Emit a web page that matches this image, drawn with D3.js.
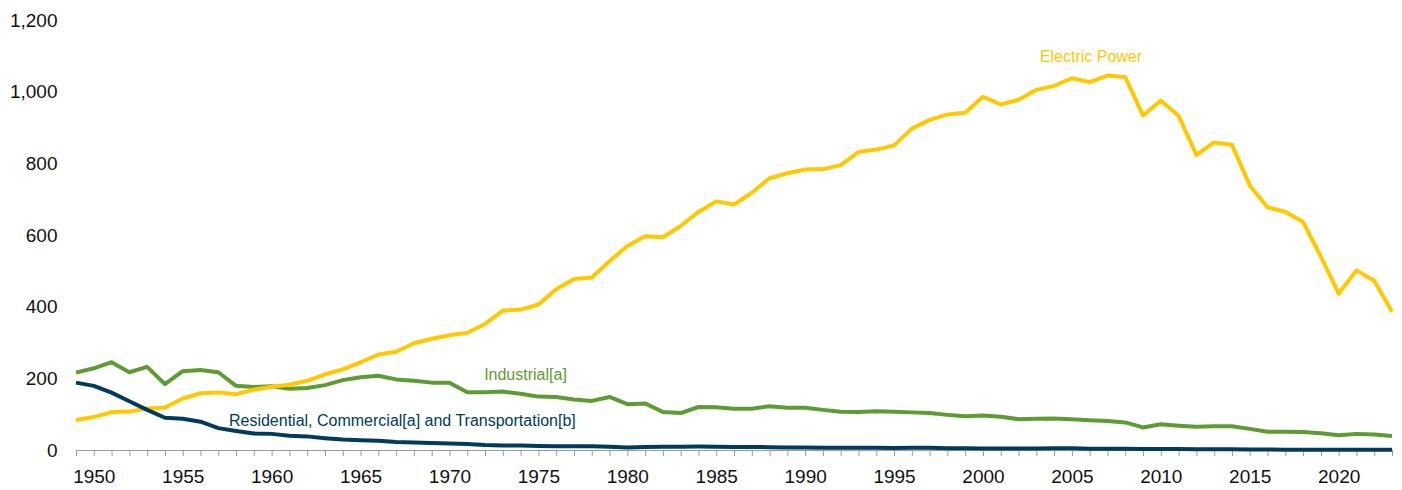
<!DOCTYPE html>
<html>
<head>
<meta charset="utf-8">
<script src="https://cdn.jsdelivr.net/npm/d3@7"></script>
<style>
    body { margin: 0; background: #fff; }
    .axis text { font-family: Arial, "Liberation Sans", sans-serif; font-size: 19px; fill: #111; }
    .xAxis path, .xAxis line { stroke: #9a9a9a; stroke-width: 1; }
    .seriesLabel { font-family: Arial, "Liberation Sans", sans-serif; font-size: 16px; }
</style>
</head>
<body>
<script>
//SVG dimension variables
var w = 1402, h = 490;

//categories: one point per year, 1949 to 2023
var years = d3.range(1949, 2024);

//coal consumption by sector, million short tons
var electricPower = [
    84, 91.9, 105.8, 107.1, 115.9, 118.4, 143.8, 158.3, 160.8, 155.7,
    168.4, 176.7, 182.2, 193.2, 211.3, 225.2, 244.8, 266.5, 274.2, 297.8,
    310.6, 320.2, 327.3, 351.8, 389.2, 391.8, 406, 448.4, 477.1, 481.2,
    527.1, 569.3, 596.8, 593.7, 625.2, 664.4, 693.8, 685.1, 717.9, 758.4,
    772.3, 782.6, 783.9, 795.1, 831.6, 838.4, 850.2, 896.9, 921.4, 936.6,
    940.9, 985.8, 964.4, 977.5, 1005.1, 1016.3, 1037.5, 1026.6, 1045.1, 1040.6,
    933.6, 975.1, 932.5, 823.6, 858.4, 851.6, 738.4, 677.6, 664.9, 636.2,
    539.4, 436.5, 501.3, 472.4, 386
];

var industrial = [
    216, 228, 245, 217, 232, 184, 220, 223, 217, 179,
    176, 178, 171, 173, 181, 195, 203, 207, 197, 193,
    188, 188, 161, 161, 163, 157, 149, 148, 141, 137,
    148, 128, 130, 106, 103, 120, 119, 115, 115, 122,
    118, 118, 112, 107, 106, 108, 107, 105, 103, 98,
    94, 96, 93, 86, 87, 88, 86, 83, 81, 77,
    63, 72, 68, 65, 66, 66, 59, 51, 51, 50,
    47, 41, 45, 43, 39
];

var resCommTrans = [
    188, 179, 160, 136, 112, 90, 87, 79, 61, 53,
    46, 45, 40, 38, 33, 29, 27, 26, 22, 21,
    19.5, 18, 17, 14, 12.7, 12.3, 11.4, 10.5, 10.2, 10.4,
    9.1, 7.1, 8.2, 9.1, 9, 9.5, 9.1, 8.6, 8.4, 8,
    7.2, 6.7, 6.1, 6.2, 6.2, 6, 5.8, 6, 6.5, 4.9,
    4.9, 4.4, 4.4, 4.4, 4.4, 5.1, 4.6, 3.6, 3.5, 3.5,
    3.1, 3, 2.7, 2.2, 2, 2.3, 1.6, 1.2, 1, 0.9,
    0.8, 0.7, 0.7, 0.6, 0.5
];

//y axis tick values
var yTicks = [0, 200, 400, 600, 800, 1000, 1200];

//series table: name, values, colour, label spot (year for x, pixel baseline for y)
var series = [
    { name: "Industrial[a]", values: industrial, color: "#5e9b33", labelYear: 1971.95, labelY: 380 },
    { name: "Electric Power", values: electricPower, color: "#ffc800", labelYear: 2003.2, labelY: 62 },
    { name: "Residential, Commercial[a] and Transportation[b]", values: resCommTrans, color: "#003b5c", labelYear: 1957.6, labelY: 426 }
];

//container block
var container = d3.select("body")
    .append("svg")
    .attr("width", w)
    .attr("height", h)
    .attr("class", "container");

//x scale: 1949 sits on the first tick at the left end
var x = d3.scaleLinear()
    .domain([1949, 2023])
    .range([76, 1392]);

//y scale
var y = d3.scaleLinear()
    .domain([0, 1200])
    .range([450, 20]);

//y axis: labels only
var yAxis = container.append("g")
    .attr("class", "axis yAxis")
    .attr("transform", "translate(76,0)")
    .call(d3.axisLeft(y)
        .tickValues(yTicks)
        .tickSize(0)
        .tickPadding(18.5)
        .tickFormat(d3.format(",")));

yAxis.select(".domain").remove();

//x axis: a tick every year, a label every 5 years
var xAxis = container.append("g")
    .attr("class", "axis xAxis")
    .attr("transform", "translate(0,450)")
    .call(d3.axisBottom(x)
        .tickValues(years)
        .tickSize(6)
        .tickSizeOuter(0)
        .tickPadding(14)
        .tickFormat(function(d){
            return d % 5 === 0 ? d : "";
        }));

//line generator
var line = d3.line()
    .x(function(d, i){
        return x(years[i]);
    })
    .y(function(d){
        return y(d);
    });

//lines block
var lines = container.selectAll(".lines")
    .data(series)
    .enter()
    .append("path")
    .attr("class", "lines")
    .attr("d", function(d){
        return line(d.values);
    })
    .style("fill", "none")
    .style("stroke", function(d){
        return d.color;
    })
    .style("stroke-width", 4)
    .style("stroke-linejoin", "round");

//series labels block
var labels = container.selectAll(".seriesLabel")
    .data(series)
    .enter()
    .append("text")
    .attr("class", "seriesLabel")
    .attr("x", function(d){
        return x(d.labelYear);
    })
    .attr("y", function(d){
        return d.labelY;
    })
    .style("fill", function(d){
        return d.color;
    })
    .text(function(d){
        return d.name;
    });
</script>
</body>
</html>
